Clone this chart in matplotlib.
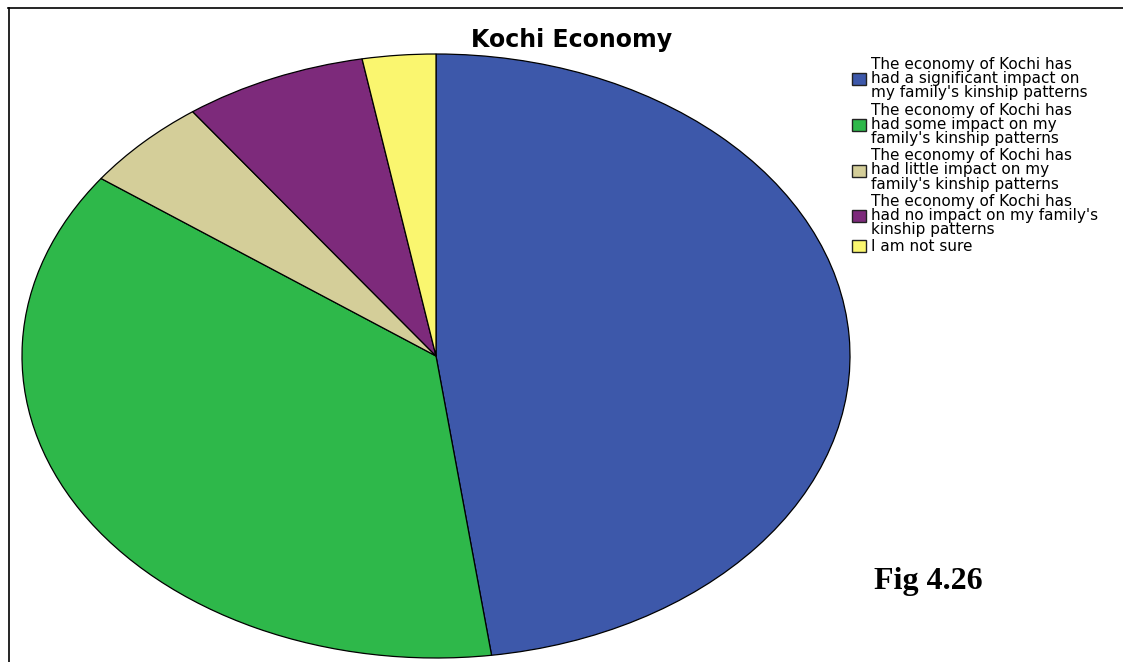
import matplotlib.pyplot as plt
from matplotlib.lines import Line2D

# respuestas (numero de encuestados) por categoria
categorias = [
    "The economy of Kochi has\nhad a significant impact on\nmy family's kinship patterns",
    "The economy of Kochi has\nhad some impact on my\nfamily's kinship patterns",
    "The economy of Kochi has\nhad little impact on my\nfamily's kinship patterns",
    "The economy of Kochi has\nhad no impact on my family's\nkinship patterns",
    "I am not sure",
]
respuestas = [67, 52, 7, 10, 4]
colores = ["#3D58AA", "#2EB84A", "#D4CE99", "#7D2A7B", "#FAF66F"]

fig = plt.figure(figsize=(11.23, 6.62), dpi=100)
fig.patch.set_facecolor("white")

# ejes estirados para que el pastel salga eliptico
ax = fig.add_axes([22/1123, 4/662, 828/1123, 604/662])
wedges, _ = ax.pie(respuestas, colors=colores, startangle=90, counterclock=False,
                   wedgeprops=dict(edgecolor="black", linewidth=0.9))
ax.set_aspect("auto")
ax.set_xlim(-1, 1)
ax.set_ylim(-1, 1)
ax.axis("off")

fig.text(572/1123, 1 - 40/662, "Kochi Economy", ha="center", va="center",
         fontsize=17, fontweight="bold", family="DejaVu Sans")

leg = fig.legend(wedges, categorias, loc="upper left",
                 bbox_to_anchor=(852/1123, 1 - 57/662),
                 frameon=False, borderpad=0, borderaxespad=0,
                 handlelength=0.9, handleheight=0.85, handletextpad=0.35,
                 labelspacing=0.15,
                 prop=dict(family="DejaVu Sans", size=11))
for t in leg.get_texts():
    t.set_linespacing(0.93)
for h in leg.legend_handles:
    h.set_edgecolor("#222222")
    h.set_linewidth(1.0)

fig.text(874/1123, 1 - 582/662, "Fig 4.26", ha="left", va="center",
         fontsize=23, fontweight="bold", family="Liberation Serif")

# marco superior e izquierdo
fig.add_artist(Line2D([8/1123, 1], [1 - 8/662, 1 - 8/662], color="black", linewidth=1.2))
fig.add_artist(Line2D([9/1123, 9/1123], [0, 1 - 8/662], color="black", linewidth=1.2))

fig.savefig("out.png", dpi=100)
